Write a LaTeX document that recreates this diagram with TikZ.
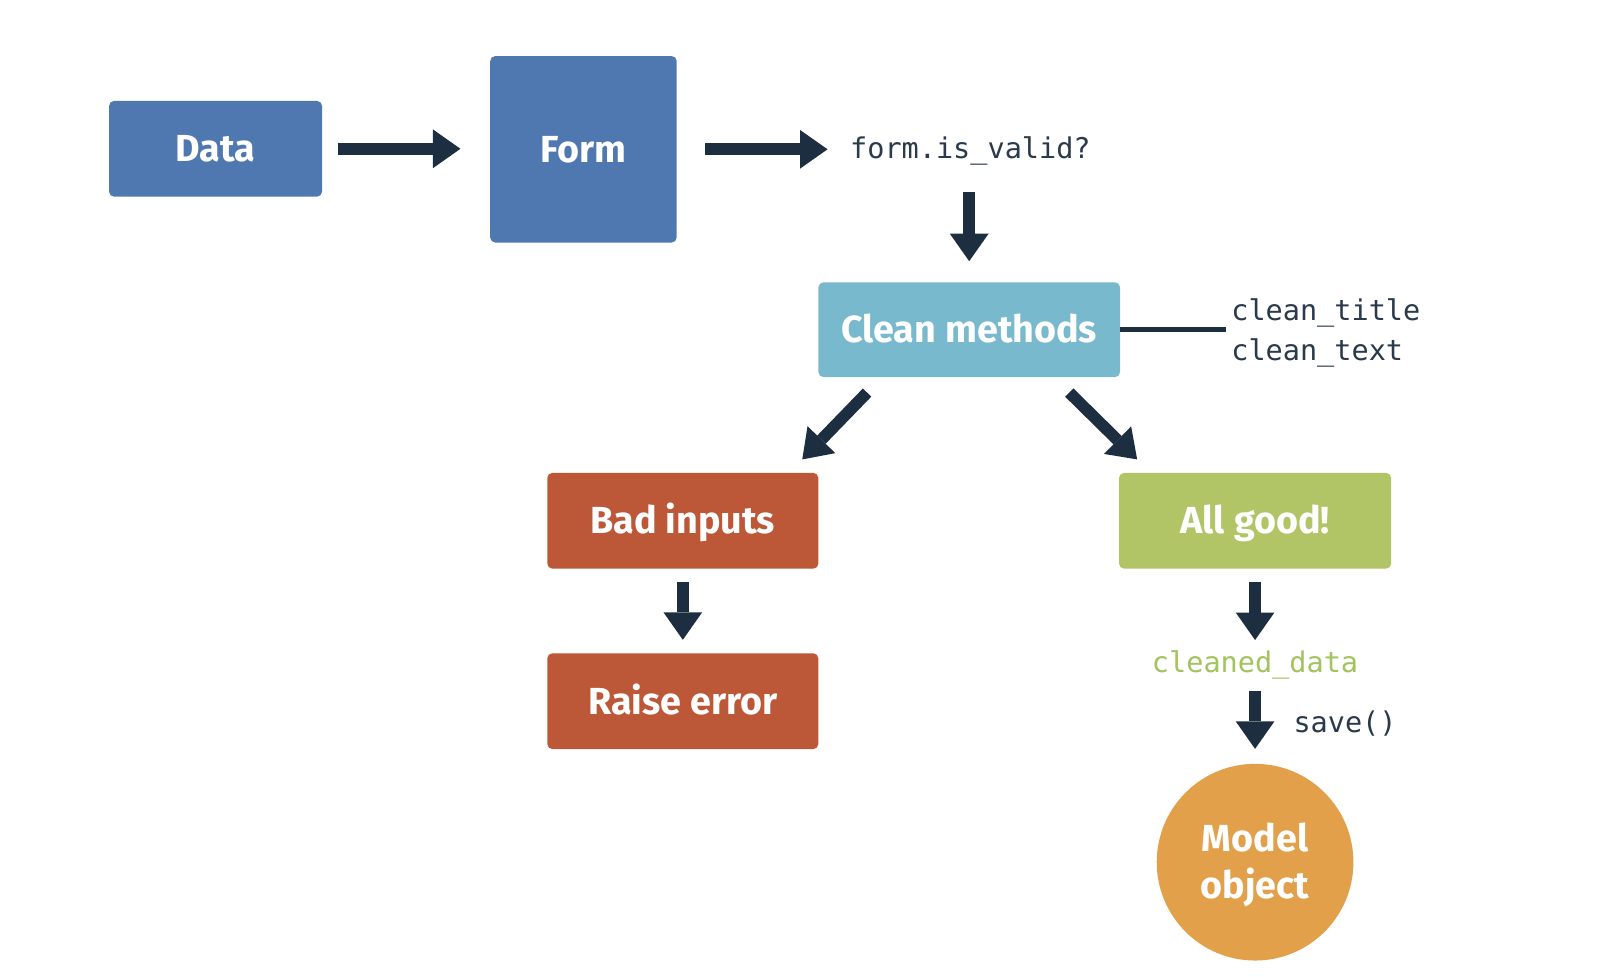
\documentclass[tikz,border=0pt]{standalone}
\usepackage{fontspec}
\setsansfont{Fira Sans}
\setmonofont{DejaVu Sans Mono}
\usetikzlibrary{arrows.meta,calc}
\definecolor{cblue}{HTML}{4F78B1}
\definecolor{ccyan}{HTML}{78B9CD}
\definecolor{cred}{HTML}{BC5838}
\definecolor{cgreen}{HTML}{B1C566}
\definecolor{corange}{HTML}{E2A04B}
\definecolor{carrow}{HTML}{1C2E40}
\definecolor{cmono}{HTML}{2B3A4A}
\definecolor{cgtext}{HTML}{A3C35E}
\begin{document}
\begin{tikzpicture}[x=1pt,y=-1pt,
  boxfont/.style={text=white,font=\sffamily\bfseries\fontsize{37}{46}\selectfont,text height=25.5pt,text depth=0pt},
  box/.style={boxfont,rectangle,rounded corners=5pt,inner sep=0pt},
  mono/.style={inner sep=0pt,font=\ttfamily\fontsize{28}{34}\selectfont,text=cmono},
  arr/.style={draw=carrow,line width=11.5pt,-{Triangle[width=38pt,length=27pt,line width=0pt]}},
]
\fill[white] (0,0) rectangle (1568,958);
\useasboundingbox (0,0) rectangle (1568,958);

\node[box,fill=cblue,minimum width=209pt,minimum height=94pt] (data) at (211.5,146) {Data};
\node[box,fill=cblue,minimum width=183pt,minimum height=183pt] (form) at (572.5,146.5) {Form};
\node[mono,anchor=base west] (valid) at (834,156) {form.is\_valid?};
\node[box,fill=ccyan,minimum width=296pt,minimum height=93pt] (clean) at (951,323.5) {Clean methods};
\coordinate (lineend) at (1203,323.5);
\node[mono,anchor=base west] (ctitle) at (1208,314) {clean\_title};
\node[mono,anchor=base west] (ctext) at (1208,354) {clean\_text};
\node[box,fill=cred,minimum width=266pt,minimum height=94pt] (bad) at (670,511) {Bad inputs};
\node[box,fill=cgreen,minimum width=267pt,minimum height=94pt] (good) at (1231.5,511) {All good!};
\node[box,fill=cred,minimum width=266pt,minimum height=94pt] (raise) at (670,688) {Raise error};
\node[mono,anchor=base,text=cgtext] (cdata) at (1231.5,660) {cleaned\_data};
\node[mono,anchor=base west] (save) at (1269,719) {save()};
\node[boxfont,circle,fill=corange,minimum size=193pt,inner sep=0pt,align=center,text height=71.5pt,text depth=0pt] (model) at (1231.5,846) {Model\\object};

\draw[arr,shorten <=15pt,shorten >=29pt] (data.east) -- (data.east -| form.west);
\draw[arr,shorten <=28pt,shorten >=22pt] (form.east) -- (form.east -| valid.west);
\draw[arr,shorten <=32pt,shorten >=20.5pt] (valid.base -| clean.north) -- (clean.north);
\draw[carrow,line width=4.5pt] (clean.east) -- (lineend);
\draw[arr] ($(clean.south west)+(48,15)$) -- ($(bad.north east)+(-16,-13)$);
\draw[arr] ($(clean.south east)+(-50,15)$) -- ($(good.north west)+(18,-13)$);
\draw[arr,shorten <=13pt,shorten >=13pt] (bad.south) -- (raise.north);
\draw[arr,shorten <=13pt,shorten >=32pt] (good.south) -- (good.south |- cdata.base);
\draw[arr,shorten <=18pt,shorten >=14.5pt] (cdata.base -| model.north) -- (model.north);
\end{tikzpicture}
\end{document}
